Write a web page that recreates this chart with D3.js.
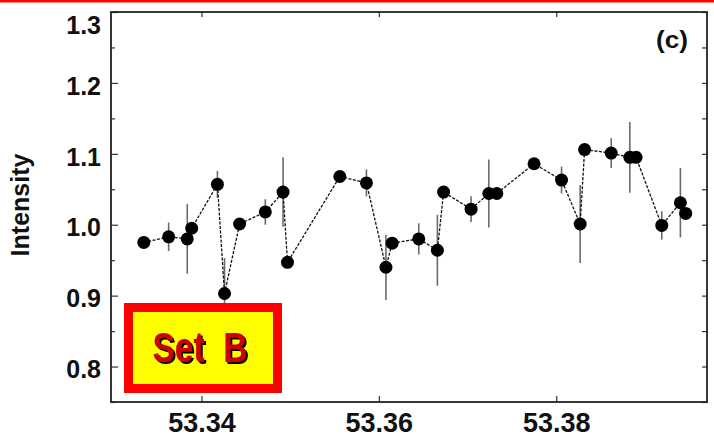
<!DOCTYPE html>
<html lang="en">
<head>
    <meta charset="UTF-8">
    <title>Intensity (c)</title>
    <script src="https://d3js.org/d3.v7.min.js"></script>
    <style>
        body { margin: 0; background: white; }
        text { font-family: 'Liberation Sans', Arial, sans-serif; fill: #111; }
        .tick text { font-size: 25px; font-weight: bold; }
        .err { stroke: #6a6a6a; stroke-width: 1.6; }
        .link { fill: none; stroke: #111; stroke-width: 1.3; stroke-dasharray: 3,1.5; }
    </style>
</head>
<body>
<script>

    const width = 714;
    const height = 438;
    const margin = {top: 12, right: 7, bottom: 36, left: 111};

    const wavelength = [53.3335, 53.3363, 53.3384, 53.3389, 53.3418, 53.3426, 53.3443, 53.3472, 53.3492, 53.3497,
                        53.3556, 53.3586, 53.3608, 53.3615, 53.3645, 53.3666, 53.3673, 53.3704, 53.3724, 53.3733,
                        53.3775, 53.3806, 53.3827, 53.3832, 53.3862, 53.3883, 53.3890, 53.3919, 53.3940, 53.3946];
    const intensity = [0.975, 0.983, 0.980, 0.995, 1.057, 0.903, 1.001, 1.018, 1.046, 0.947,
                       1.068, 1.059, 0.940, 0.974, 0.980, 0.964, 1.046, 1.022, 1.044, 1.044,
                       1.086, 1.063, 1.001, 1.106, 1.101, 1.095, 1.095, 0.999, 1.031, 1.016];
    const errors = [0, 0.020, 0.049, 0, 0.019, 0.050, 0, 0.018, 0.049, 0,
                    0, 0.019, 0.046, 0, 0.022, 0.050, 0, 0.018, 0.048, 0,
                    0, 0.019, 0.055, 0, 0.021, 0.050, 0, 0.020, 0.049, 0];

    const xTicks = [53.34, 53.36, 53.38];
    const yTicks = [0.8, 0.9, 1.0, 1.1, 1.2, 1.3];
    const yMinor = [0.75, 0.85, 0.95, 1.05, 1.15, 1.25];

    const points = wavelength.map((w, i) => ({x: w, y: intensity[i], e: errors[i]}));

    const svg = d3.select("body").append("svg").attr("width", width).attr("height", height);

    // black shadow behind the "Set B" letters
    const shadow = svg.append("defs").append("filter").attr("id", "shadow")
            .attr("x", "-10%").attr("y", "-10%").attr("width", "130%").attr("height", "130%");
    shadow.append("feOffset").attr("in", "SourceAlpha").attr("dx", 2).attr("dy", 2).attr("result", "off");
    shadow.append("feFlood").attr("flood-color", "#000");
    shadow.append("feComposite").attr("in2", "off").attr("operator", "in").attr("result", "sh");
    const merge = shadow.append("feMerge");
    merge.append("feMergeNode").attr("in", "sh");
    merge.append("feMergeNode").attr("in", "SourceGraphic");

    // red rule across the top
    svg.append("rect").attr("x", 0).attr("y", 0).attr("width", width).attr("height", 2.5).style("fill", "#ff0000");

    const w = width - margin.left - margin.right;
    const h = height - margin.top - margin.bottom;

    const x = d3.scaleLinear().domain([53.3298, 53.397]).range([0, w]);
    const y = d3.scaleLinear().domain([0.75, 1.30]).range([h, 0]);

    const chart = svg.append("g").attr("transform", `translate(${[margin.left, margin.top]})`);

    // ticks, all pointing inward
    chart.append("g").attr("transform", `translate(0,${h})`)
            .call(d3.axisBottom(x).tickValues(xTicks).tickSize(-6).tickPadding(11).tickFormat(d3.format(".2f")))
            .call(g => g.select(".domain").remove())
            .call(g => g.selectAll(".tick text").style("font-size", "27px"));
    chart.append("g")
            .call(d3.axisTop(x).tickValues(xTicks).tickSize(-5).tickFormat(""))
            .call(g => g.select(".domain").remove());

    chart.append("g")
            .call(d3.axisLeft(y).tickValues(yTicks).tickSize(-7).tickPadding(10).tickFormat(d3.format(".1f")))
            .call(g => g.select(".domain").remove())
            .call(g => g.selectAll(".tick text").attr("dy", d => d === 1.3 ? "0.85em" : "0.45em"));
    chart.append("g")
            .call(d3.axisLeft(y).tickValues(yMinor).tickSize(-4).tickFormat(""))
            .call(g => g.select(".domain").remove());
    chart.append("g").attr("transform", `translate(${w},0)`)
            .call(d3.axisRight(y).tickValues(yTicks.concat(yMinor)).tickSize(-5).tickFormat(""))
            .call(g => g.select(".domain").remove());

    chart.selectAll(".tick line").style("stroke", "#333").style("stroke-width", 1.2);

    chart.append("rect").attr("width", w).attr("height", h)
            .style("fill", "none").style("stroke", "#222").style("stroke-width", 1.8);

    // error bars
    chart.selectAll("line.err")
            .data(points.filter(d => d.e > 0))
            .enter().append("line").attr("class", "err")
            .attr("x1", d => x(d.x)).attr("x2", d => x(d.x))
            .attr("y1", d => y(d.y - d.e)).attr("y2", d => y(d.y + d.e));

    chart.append("path").attr("class", "link")
            .datum(points)
            .attr("d", d3.line().x(d => x(d.x)).y(d => y(d.y)));

    chart.selectAll("circle")
            .data(points)
            .enter().append("circle")
            .attr("cx", d => x(d.x)).attr("cy", d => y(d.y)).attr("r", 6.5)
            .style("fill", "#000");

    // "Set B" label box
    const box = chart.append("g").attr("transform", `translate(${[17.5, 295.5]})`);
    box.append("rect").attr("width", 149).attr("height", 81)
            .style("fill", "#ffff00").style("stroke", "#ff0000").style("stroke-width", 9);
    box.append("text")
            .attr("x", 24).attr("y", 54)
            .attr("textLength", 95).attr("lengthAdjust", "spacingAndGlyphs")
            .style("white-space", "pre").style("font-weight", "bold").style("font-size", "42px")
            .style("fill", "#cc0000").attr("filter", "url(#shadow)")
            .text("Set  B");

    chart.append("text").attr("x", 577).attr("y", 36)
            .attr("textLength", 32).attr("lengthAdjust", "spacingAndGlyphs")
            .style("font-size", "24px").style("font-weight", "bold").style("text-anchor", "end")
            .text("(c)");

    svg.append("text")
            .attr("transform", `translate(29,205) rotate(-90)`)
            .style("text-anchor", "middle").style("font-size", "25px").style("font-weight", "bold")
            .text("Intensity");

</script>
</body>
</html>
